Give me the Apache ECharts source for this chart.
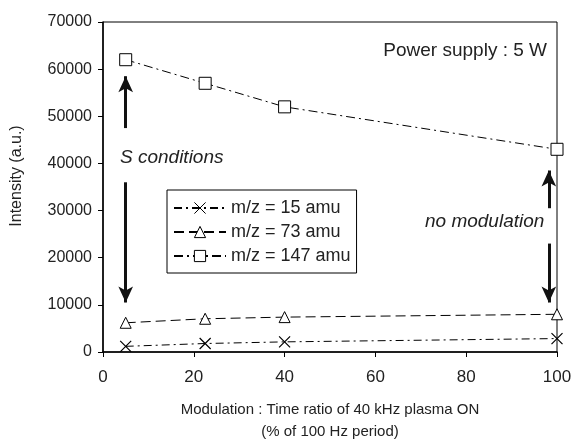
<!DOCTYPE html>
<html style="height: 100%">
<head>
    <meta charset="UTF-8">
    <title>Intensity vs modulation</title>
    <script src="https://cdn.jsdelivr.net/npm/echarts/dist/echarts.min.js"></script>
    <style>
        #main { width: 575px; height: 443px; }
    </style>
</head>
<body style="height: 100%; margin: 0; background: #fff">
    <div id="main"></div>
    <script type="text/javascript">
        var ratio = [5, 22.5, 40, 100];
        var mz15 = [1200, 1800, 2150, 2850];
        var mz73 = [6200, 7050, 7400, 8000];
        var mz147 = [62000, 57000, 52000, 43000];
        var names = ['m/z = 15 amu', 'm/z = 73 amu', 'm/z = 147 amu'];

        // arrows (data coords): [x, yFrom, yTo]
        var arrows = [
            [5, 47500, 58500],
            [5, 36000, 10500],
            [98.2, 30500, 38500],
            [98.2, 23000, 10500]
        ];

        function pairs(ys) {
            return ratio.map(function (x, i) { return [x, ys[i]]; });
        }

        var font = 'Liberation Sans, Arial, sans-serif';
        var chartDom = document.getElementById('main');
        var myChart = echarts.init(chartDom);
        var option;

        var arrowLines = arrows.map(function (a) {
            return [{ coord: [a[0], a[1]] }, { coord: [a[0], a[2]] }];
        });

        option = {
            animation: false,
            textStyle: { fontFamily: font },
            grid: {
                left: 103, right: 18, top: 22, bottom: 91,
                outerBoundsMode: 'none', containLabel: false,
                show: true, borderColor: '#000', borderWidth: 1
            },
            xAxis: {
                type: 'value', min: 0, max: 100, interval: 20,
                axisLine: { onZero: false, lineStyle: { color: '#000', width: 1.5 } },
                axisTick: { show: true, length: 5, lineStyle: { color: '#000' } },
                axisLabel: { color: '#222', fontSize: 17, margin: 17, fontFamily: font },
                splitLine: { show: false },
                name: 'Modulation : Time ratio of 40 kHz plasma ON\n(% of 100 Hz period)',
                nameLocation: 'middle', nameGap: 47,
                nameTextStyle: { color: '#222', fontSize: 15, lineHeight: 22, fontFamily: font }
            },
            yAxis: {
                type: 'value', min: 0, max: 70000, interval: 10000,
                axisLine: { show: true, lineStyle: { color: '#000', width: 1.5 } },
                axisTick: { show: true, length: 5, lineStyle: { color: '#000' } },
                axisLabel: { color: '#222', fontSize: 16, margin: 11, fontFamily: font,
                             formatter: function (v) { return String(v); } },
                splitLine: { show: false },
                name: 'Intensity (a.u.)',
                nameLocation: 'middle', nameGap: 78,
                nameTextStyle: { color: '#222', fontSize: 16, fontFamily: font,
                                 padding: [0, 0, 0, 22] }
            },
            legend: {
                orient: 'vertical', left: 167, top: 190,
                data: names,
                itemWidth: 52, itemHeight: 14, itemGap: 6,
                itemStyle: { borderWidth: 1 },
                borderColor: '#000', borderWidth: 1, padding: [9, 6, 8, 6],
                textStyle: { color: '#222', fontSize: 18, fontFamily: font }
            },
            graphic: [
                { type: 'text', right: 28, top: 41,
                  style: { text: 'Power supply : 5 W', fill: '#222', font: '19px ' + font } },
                { type: 'text', left: 120, top: 148,
                  style: { text: 'S conditions', fill: '#222', font: 'italic 19px ' + font } },
                { type: 'text', left: 425, top: 212,
                  style: { text: 'no modulation', fill: '#222', font: 'italic 19px ' + font } }
            ],
            series: [
                {
                    name: names[0], type: 'line', data: pairs(mz15),
                    symbol: 'path://M0,0L10,10M10,0L0,10', symbolSize: 11,
                    itemStyle: { color: 'none', borderColor: '#000', borderWidth: 1.2 },
                    lineStyle: { color: '#000', width: 1, type: [8, 4, 2, 4] }
                },
                {
                    name: names[1], type: 'line', data: pairs(mz73),
                    symbol: 'triangle', symbolSize: 11,
                    itemStyle: { color: '#fff', borderColor: '#000', borderWidth: 1 },
                    lineStyle: { color: '#000', width: 1, type: [10, 5] }
                },
                {
                    name: names[2], type: 'line', data: pairs(mz147),
                    symbol: 'rect', symbolSize: 12,
                    itemStyle: { color: '#fff', borderColor: '#000', borderWidth: 1 },
                    lineStyle: { color: '#000', width: 1, type: [9, 4, 2, 4] },
                    markLine: {
                        silent: true,
                        symbol: ['none', 'arrow'], symbolSize: [11, 16],
                        label: { show: false },
                        lineStyle: { color: '#111', width: 3, type: 'solid' },
                        data: arrowLines
                    }
                }
            ]
        };

        myChart.setOption(option);
    </script>
</body>
</html>
